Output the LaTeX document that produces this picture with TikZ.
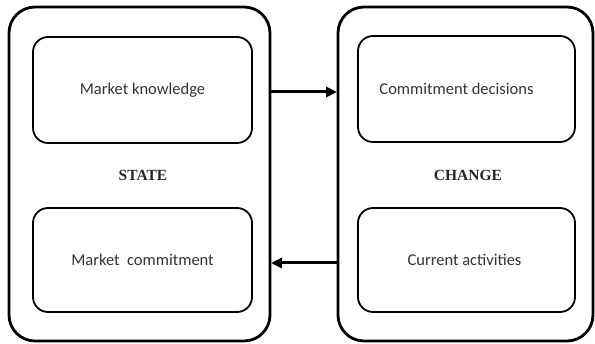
\documentclass[tikz,border=0pt]{standalone}
\usepackage{fontspec}
\setmainfont{Carlito}
\newfontfamily\labelfont{Liberation Serif}
\usetikzlibrary{arrows.meta}
\begin{document}
\begin{tikzpicture}[x=1pt,y=-1pt,
  outerbox/.style={draw,line width=2.8pt,rounded corners=26pt},
  innerbox/.style={draw,line width=1.8pt,rounded corners=15pt},
  txt/.style={font=\fontsize{16.5}{18}\selectfont,color=black!80},
  lbl/.style={font=\labelfont\bfseries\fontsize{15.5}{17}\selectfont,color=black!85},
  conn/.style={line width=3pt,-{Triangle[length=11pt,width=10pt]}}]
\useasboundingbox (0,0) rectangle (595,344);
\draw[outerbox] (9,7) rectangle (270,341);
\draw[outerbox] (338,7) rectangle (593,341);
\node[innerbox,minimum width=219pt,minimum height=106pt] (mk) at (142.5,90) {};
\node[txt] at (mk.center) {Market knowledge};
\node[innerbox,minimum width=219pt,minimum height=104pt] (mc) at (142.5,260) {};
\node[txt] at (mc.center) {Market\ \ commitment};
\node[innerbox,minimum width=217pt,minimum height=106pt] (cd) at (466.5,89) {};
\node[txt] at ([xshift=-10pt]cd.center) {Commitment decisions};
\node[innerbox,minimum width=217pt,minimum height=104pt] (ca) at (466.5,260) {};
\node[txt] at ([xshift=-2pt]ca.center) {Current activities};
\node[lbl] (state) at (143,175) {STATE};
\node[lbl] (change) at (468,175) {CHANGE};
\coordinate (a1) at (271,92);
\coordinate (a2) at (337,92);
\coordinate (b1) at (337,263);
\coordinate (b2) at (271,263);
\draw[conn] (a1) -- (a2);
\draw[conn] (b1) -- (b2);
\end{tikzpicture}
\end{document}
